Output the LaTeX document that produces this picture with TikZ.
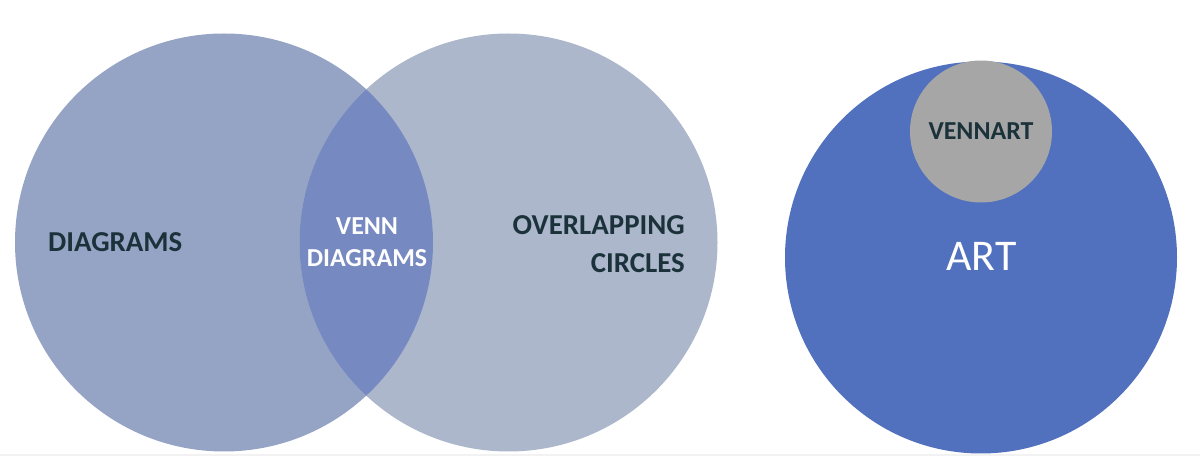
\documentclass[tikz,border=0pt]{standalone}
\usepackage{fontspec}
\setmainfont{Carlito}
\definecolor{leftc}{RGB}{149,164,197}
\definecolor{rightc}{RGB}{172,183,204}
\definecolor{lensc}{RGB}{118,138,193}
\definecolor{bluec}{RGB}{81,113,190}
\definecolor{grayc}{RGB}{166,166,166}
\definecolor{darktext}{RGB}{28,50,58}
\definecolor{stripc}{RGB}{242,242,242}
\begin{document}
\begin{tikzpicture}[x=1bp,y=-1bp,
  dlabel/.style={font=\fontsize{29}{38}\selectfont\bfseries, text=darktext, inner sep=0pt},
  wlabel/.style={font=\fontsize{26}{32}\selectfont\bfseries, text=white, inner sep=0pt, align=center}]
\useasboundingbox (0,0) rectangle (1200,456);
\fill[white] (0,0) rectangle (1200,456);
\fill[stripc] (0,454) rectangle (1200,456);
% Venn circles
\fill[leftc] (224,242.5) circle[radius=209];
\fill[rightc] (508.5,242.5) circle[radius=209];
\begin{scope}
  \clip (224,242.5) circle[radius=209];
  \fill[lensc] (508.5,242.5) circle[radius=209];
\end{scope}
% Art circles
\fill[bluec] (981,257.5) circle[radius=196];
\fill[grayc] (981,131.5) circle[radius=71];
% labels
\node[dlabel, anchor=west] (diag) at (48,242.5) {DIAGRAMS};
\node[wlabel] (venn) at (367,242.5) {VENN\\DIAGRAMS};
\node[dlabel, align=right, anchor=east] (over) at (685,244) {OVERLAPPING\\CIRCLES};
\node[font=\fontsize{26}{30}\selectfont\bfseries, text=darktext, inner sep=0pt] (vennart) at (981,131.5) {VENNART};
\node[font=\fontsize{44}{50}\selectfont, text=white, inner sep=0pt] (art) at (981.5,256) {ART};
\end{tikzpicture}
\end{document}
